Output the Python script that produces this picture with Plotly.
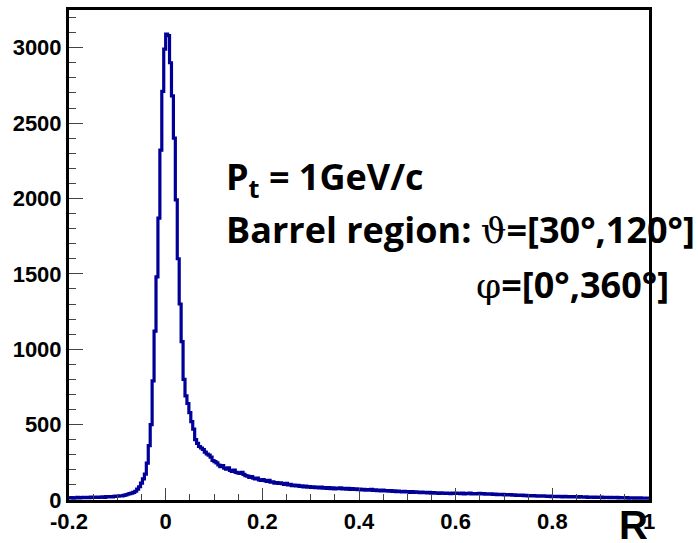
import numpy as np
import plotly.graph_objects as go

# ---- data (histogram of R, fixed-width bins) ----
BIN_LO = -0.2
BIN_WIDTH = 0.004
COUNTS = [
    # -0.200 .. -0.080
    14, 16, 13, 15, 17, 14, 16, 18, 15, 17, 16, 19, 17, 18, 20, 17, 19, 21, 18, 22,
    20, 23, 21, 24, 26, 25, 28, 27, 31, 34,
    # -0.080 .. 0.000
    38, 42, 45, 50, 58, 72, 88, 112, 140, 172, 245, 360, 500, 790, 1120, 1480, 1870, 2320, 2710, 2990,
    # 0.000 .. 0.200
    3090, 3080, 2900, 2680, 2400, 1990, 1600, 1300, 1050, 800,
    690, 640, 580, 520, 470, 400, 375, 355, 345, 335,
    318, 305, 298, 285, 262, 255, 246, 232, 222, 228,
    212, 205, 214, 196, 190, 198, 183, 180, 176, 184,
    170, 162, 158, 150, 156, 145, 140, 146, 133, 130,
    # 0.200 .. 0.400
    136, 128, 124, 130, 118, 121, 112, 116, 110, 114,
    108, 104, 111, 100, 104, 96, 99, 93, 97, 90,
    94, 87, 92, 85, 89, 84, 88, 82, 85, 80,
    86, 78, 82, 77, 83, 76, 80, 74, 79, 75,
    81, 73, 77, 72, 78, 71, 75, 70, 74, 68,
    # 0.400 .. 0.600
    73, 67, 70, 65, 69, 66, 71, 64, 67, 62,
    66, 61, 65, 60, 63, 58, 62, 57, 60, 55,
    59, 56, 54, 58, 53, 56, 51, 55, 50, 54,
    52, 49, 53, 48, 51, 47, 50, 46, 49, 45,
    48, 44, 47, 45, 43, 46, 44, 42, 45, 43,
    # 0.600 .. 0.800
    46, 44, 42, 45, 41, 44, 42, 45, 41, 43,
    40, 42, 44, 40, 42, 39, 41, 38, 40, 37,
    39, 36, 38, 35, 37, 34, 36, 33, 35, 32,
    34, 31, 33, 30, 32, 29, 31, 28, 30, 27,
    29, 28, 26, 28, 25, 27, 26, 24, 26, 23,
    # 0.800 .. 1.000
    25, 24, 22, 25, 23, 21, 24, 22, 21, 23,
    20, 22, 21, 19, 22, 20, 19, 21, 18, 20,
    19, 17, 20, 18, 17, 19, 16, 18, 17, 15,
    17, 16, 15, 17, 14, 16, 15, 14, 16, 13,
    15, 14, 13, 15, 12, 14, 13, 12, 13, 12,
]

X_RANGE = [-0.2, 1.0]
Y_RANGE = [0, 3250]
X_TICKS = [-0.2, 0, 0.2, 0.4, 0.6, 0.8, 1.0]
X_TICK_TEXT = ["-0.2", "0", "0.2", "0.4", "0.6", "0.8", "1"]
Y_TICKS = [0, 500, 1000, 1500, 2000, 2500, 3000]
Y_TICK_TEXT = ["0", "500", "1000", "1500", "2000", "2500", "3000"]

X_TITLE = "R"
TEXT_LINE1 = "P<sub>t</sub> = 1GeV/c"
TEXT_LINE2 = "Barrel region: <span style='font-family:DejaVu Serif;font-weight:normal'>ϑ</span>=[30°,120°]"
TEXT_LINE3 = "<span style='font-family:DejaVu Serif;font-weight:normal'>φ</span>=[0°,360°]"

# ---- figure ----
W, H = 698, 543
ML, MR, MT, MB = 69, 49, 7, 43

edges = BIN_LO + BIN_WIDTH * np.arange(len(COUNTS) + 1)
yvals = COUNTS + [COUNTS[-1]]

fig = go.Figure()
fig.add_trace(go.Scatter(
    x=edges, y=yvals, mode="lines",
    line=dict(shape="hv", color="#000099", width=3.2),
    showlegend=False, hoverinfo="skip",
))

tick_font = dict(family="Liberation Sans, Arial, sans-serif", size=22, color="black", weight="bold")

fig.update_layout(
    width=W, height=H,
    margin=dict(l=ML, r=MR, t=MT, b=MB),
    paper_bgcolor="white", plot_bgcolor="white",
    xaxis=dict(
        range=X_RANGE, tickvals=X_TICKS, ticktext=X_TICK_TEXT,
        ticks="inside", ticklen=12, tickwidth=1, tickcolor="#444",
        showline=True, linewidth=3, linecolor="black", mirror=True,
        showgrid=False, zeroline=False, tickfont=tick_font,
        minor=dict(dtick=0.05, tick0=-0.2, ticks="inside", ticklen=6,
                   tickwidth=1, tickcolor="#444", showgrid=False),
    ),
    yaxis=dict(
        range=Y_RANGE, tickvals=Y_TICKS, ticktext=Y_TICK_TEXT,
        ticks="inside", ticklen=14, tickwidth=1, tickcolor="#444",
        showline=True, linewidth=3, linecolor="black", mirror=True,
        showgrid=False, zeroline=False, tickfont=tick_font,
        minor=dict(dtick=100, tick0=0, ticks="inside", ticklen=7,
                   tickwidth=1, tickcolor="#444", showgrid=False),
    ),
)

PW = W - ML - MR
PH = H - MT - MB


def px_x(px):
    return (px - ML) / PW


def px_y(py):
    return (H - MB - py) / PH


label_font = dict(family="Open Sans, Lato, sans-serif", size=36, color="black", weight="bold")
fig.add_annotation(text=TEXT_LINE1, xref="paper", yref="paper", x=px_x(224), y=px_y(177),
                   xanchor="left", yanchor="middle", showarrow=False, font=label_font)
fig.add_annotation(text=TEXT_LINE2, xref="paper", yref="paper", x=px_x(224), y=px_y(228),
                   xanchor="left", yanchor="middle", showarrow=False, font=label_font)
fig.add_annotation(text=TEXT_LINE3, xref="paper", yref="paper", x=px_x(474), y=px_y(283),
                   xanchor="left", yanchor="middle", showarrow=False, font=label_font)
fig.add_annotation(text=X_TITLE, xref="paper", yref="paper", x=px_x(650), y=px_y(525),
                   xanchor="right", yanchor="middle", showarrow=False,
                   font=dict(family="Liberation Sans, Arial, sans-serif", size=40, color="black", weight="bold"))

fig.write_html("out.html")
